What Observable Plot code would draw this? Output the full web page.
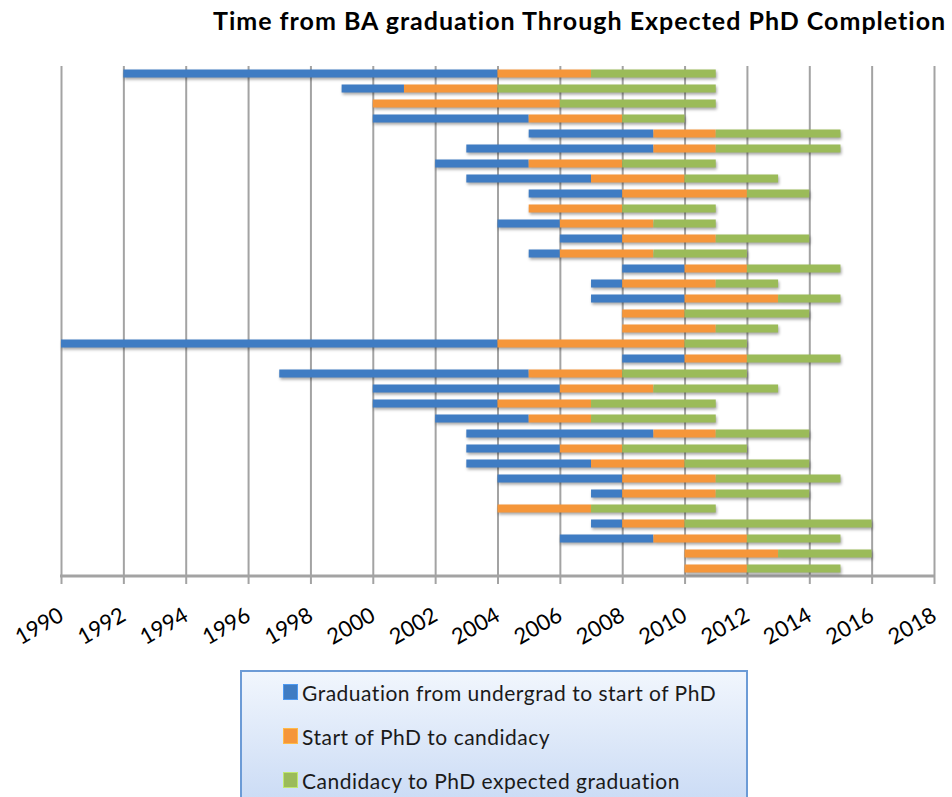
<!DOCTYPE html>
<html><head><meta charset="utf-8">
<script src="https://cdn.jsdelivr.net/npm/d3@7"></script>
<script src="https://cdn.jsdelivr.net/npm/@observablehq/plot@0.6"></script>
<style>
body{margin:0;background:#fff;width:952px;height:797px;overflow:hidden;position:relative;font-family:Lato,"Open Sans",sans-serif}
#title{position:absolute;left:213px;top:5px;font-weight:bold;font-size:25px;letter-spacing:1px;white-space:nowrap;color:#000}
#chart{position:absolute;left:0;top:0}
#chart svg g[aria-label="bar"]{filter:drop-shadow(1.5px 2px 1.5px rgba(0,0,0,0.35))}
#legend{position:absolute;left:240px;top:670px;width:508px;height:150px;border:2px solid #6c9bd6;box-sizing:border-box;background:linear-gradient(#f1f6fd,#c6d8f4)}
.item{position:absolute;left:41px;height:20px;display:flex;align-items:center;font-size:21px;letter-spacing:0.5px;color:#1a1a1a;white-space:nowrap}
.sw{width:15px;height:16px;margin-right:4px;box-sizing:border-box}
</style></head>
<body>
<div id="title">Time from BA graduation Through Expected PhD Completion</div>
<div id="chart"></div>
<div id="legend"></div>
<script>
// Data: one row per student, top to bottom
const students = d3.range(1, 35).map(String);
const baGraduation = [1992,1999,2000,2000,2005,2003,2002,2003,2005,2005,2004,2006,2005,2008,2007,2007,2008,2008,1990,2008,1997,2000,2000,2002,2003,2003,2003,2004,2007,2004,2007,2006,2010,2010];
const phdStart     = [2004,2001,2000,2005,2009,2009,2005,2007,2008,2005,2006,2008,2006,2010,2008,2010,2008,2008,2004,2010,2005,2006,2004,2005,2009,2006,2007,2008,2008,2004,2008,2009,2010,2010];
const candidacy    = [2007,2004,2006,2008,2011,2011,2008,2010,2012,2008,2009,2011,2009,2012,2011,2013,2010,2011,2010,2012,2008,2009,2007,2007,2011,2008,2010,2011,2011,2007,2010,2012,2013,2012];
const expectedGrad = [2011,2011,2011,2010,2015,2015,2011,2013,2014,2011,2011,2014,2012,2015,2013,2015,2014,2013,2012,2015,2012,2013,2011,2011,2014,2012,2014,2015,2014,2011,2016,2015,2016,2015];
const seriesNames = ["Graduation from undergrad to start of PhD","Start of PhD to candidacy","Candidacy to PhD expected graduation"];
const seriesColors = ["#3f7cc3","#f5963a","#9bbb59"];
const xTicks = [1990,1992,1994,1996,1998,2000,2002,2004,2006,2008,2010,2012,2014,2016,2018];

const segments = [];
students.forEach((s, i) => {
  segments.push({id: s, series: seriesNames[0], start: baGraduation[i], end: phdStart[i]});
  segments.push({id: s, series: seriesNames[1], start: phdStart[i], end: candidacy[i]});
  segments.push({id: s, series: seriesNames[2], start: candidacy[i], end: expectedGrad[i]});
});

const axisLine = (index, scales, values, dim) => {
  const y = dim.height - dim.marginBottom;
  return d3.create("svg:line")
    .attr("x1", dim.marginLeft - 1).attr("x2", dim.width - dim.marginRight + 1)
    .attr("y1", y).attr("y2", y)
    .attr("stroke", "#a3a3a3").attr("stroke-width", 3).node();
};

const chart = Plot.plot({
  width: 952, height: 660,
  marginLeft: 61, marginRight: 18, marginTop: 66, marginBottom: 84,
  style: {background: "transparent", fontFamily: "Lato, sans-serif"},
  x: {domain: [1990, 2018]},
  y: {domain: students, axis: null, padding: 0},
  color: {domain: seriesNames, range: seriesColors},
  marks: [
    Plot.gridX(xTicks, {stroke: "#a3a3a3", strokeOpacity: 1, strokeWidth: 2}),
    Plot.axisX(xTicks, {tickSize: 8, stroke: "#a3a3a3", strokeWidth: 2, tickRotate: -30, tickPadding: 29,
      fontSize: 22, fill: "#000", tickFormat: d => String(d), label: null}),
    axisLine,
    Plot.barX(segments, {x1: "start", x2: "end", y: "id", fill: "series", insetTop: 3.5, insetBottom: 3.5})
  ]
});
document.getElementById("chart").append(chart);

const legend = document.getElementById("legend");
const tops = [10, 54, 98];
seriesNames.forEach((name, i) => {
  const item = document.createElement("div");
  item.className = "item";
  item.style.top = tops[i] + "px";
  const sw = document.createElement("span");
  sw.className = "sw";
  sw.style.background = seriesColors[i];
  sw.style.border = "1px solid " + d3.color(seriesColors[i]).brighter(0.6);
  item.append(sw, document.createTextNode(name));
  legend.append(item);
});
</script>
</body></html>
